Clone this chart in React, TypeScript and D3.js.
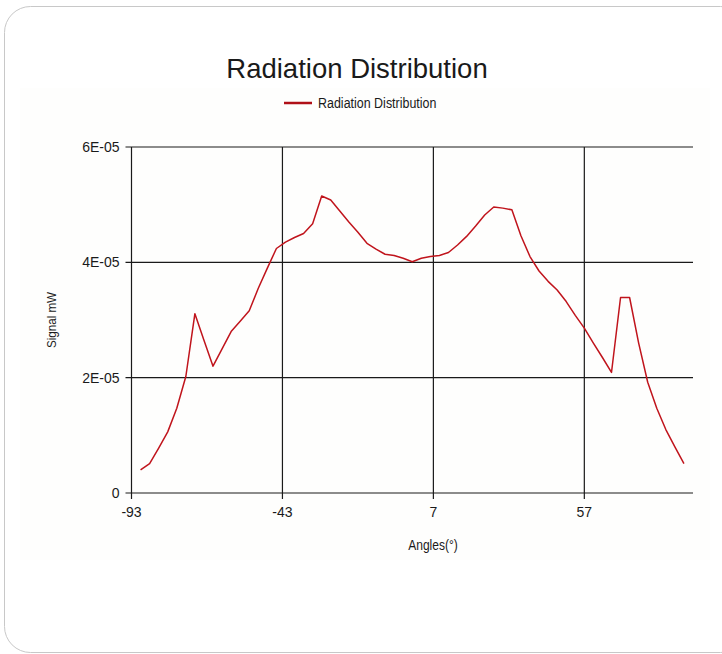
import React from "react";
import * as d3 from "d3";

const angles: number[] = [
  -90, -87, -84, -81, -78, -75, -72, -69, -66, -63, -60, -57, -54, -51, -48, -45,
  -42, -39, -36, -33, -30, -27, -24, -21, -18, -15, -12, -9, -6, -3, 0, 3, 6, 9,
  12, 15, 18, 21, 24, 27, 30, 33, 36, 39, 42, 45, 48, 51, 54, 57, 60, 63, 66, 69,
  72, 75, 78, 81, 84, 87, 90,
];
// signal in units of 1E-06 mW
const signal: number[] = [
  4.0, 5.1, 7.8, 10.6, 14.7, 20.2, 31.1, 26.5, 22.0, 25.0, 28.0, 29.8, 31.6, 35.5,
  39.0, 42.4, 43.5, 44.3, 45.0, 46.7, 51.5, 50.8, 48.9, 47.0, 45.2, 43.3, 42.3,
  41.4, 41.2, 40.7, 40.1, 40.7, 41.0, 41.2, 41.7, 43.0, 44.5, 46.3, 48.2, 49.6,
  49.4, 49.1, 44.6, 41.0, 38.5, 36.7, 35.2, 33.2, 30.8, 28.6, 26.0, 23.5, 20.9,
  33.9, 33.9, 26.0, 19.2, 14.7, 11.0, 8.0, 5.1,
];
const xTicks: number[] = [-93, -43, 7, 57];
const yTicks: number[] = [0, 20, 40, 60];
const yTickLabels: string[] = ["0", "2E-05", "4E-05", "6E-05"];

const title = "Radiation Distribution";
const seriesName = "Radiation Distribution";
const xTitle = "Angles(°)";
const yTitle = "Signal mW";

const W = 722;
const H = 654;
const left = 131.5;
const right = 693;
const top = 147;
const bottom = 493;

const regular = "'Liberation Sans', Arial, sans-serif";

export default function App() {
  const x = d3.scaleLinear().domain([-93, 93]).range([left, right]);
  const y = d3.scaleLinear().domain([0, 60]).range([bottom, top]);
  const pts: [number, number][] = angles.map((a, i) => [a, signal[i]]);
  const line = d3
    .line<[number, number]>()
    .x((d) => x(d[0]))
    .y((d) => y(d[1]));
  const gridColor = "#1a1a1a";

  return (
    <div style={{ position: "absolute", left: 0, top: 0 }}>
      <svg width={W} height={H} style={{ display: "block" }}>
        <rect x={0} y={0} width={W} height={H} fill="#ffffff" />
        <rect
          x={4.5}
          y={6.5}
          width={W + 20}
          height={H - 8}
          rx={26}
          ry={26}
          fill="#ffffff"
          stroke="#c8c8c8"
          strokeWidth={1}
        />
        <rect x={20} y={88} width={690} height={472} fill="#fefefd" />
        <text
          x={357}
          y={78}
          textAnchor="middle"
          fontFamily={regular}
          fontSize={27.5}
          fill="#1a1a1a"
        >
          {title}
        </text>
        {/* legend */}
        <line x1={284} x2={312} y1={103} y2={103} stroke="#b01018" strokeWidth={2.5} />
        <text
          transform="translate(318,108) scale(0.86,1)"
          fontFamily={regular}
          fontSize={14.5}
          fill="#1a1a1a"
        >
          {seriesName}
        </text>
        {/* horizontal gridlines */}
        {yTicks.map((t, i) => (
          <g key={"y" + t}>
            <line
              x1={left - 6}
              x2={right}
              y1={y(t)}
              y2={y(t)}
              stroke={gridColor}
              strokeWidth={1.2}
            />
            <text
              x={left - 12}
              y={y(t) + 5}
              textAnchor="end"
              fontFamily={regular}
              fontSize={14}
              fill="#1a1a1a"
            >
              {yTickLabels[i]}
            </text>
          </g>
        ))}
        {/* vertical gridlines */}
        {xTicks.map((t) => (
          <g key={"x" + t}>
            <line
              x1={x(t)}
              x2={x(t)}
              y1={top}
              y2={bottom + 6}
              stroke={gridColor}
              strokeWidth={1.2}
            />
            <text
              x={x(t)}
              y={517}
              textAnchor="middle"
              fontFamily={regular}
              fontSize={14}
              fill="#1a1a1a"
            >
              {t}
            </text>
          </g>
        ))}
        <path
          d={line(pts) || ""}
          fill="none"
          stroke="#c0141c"
          strokeWidth={1.5}
          strokeLinejoin="round"
        />
        <text
          transform="translate(433,550) scale(0.86,1)"
          textAnchor="middle"
          fontFamily={regular}
          fontSize={14}
          fill="#1a1a1a"
        >
          {xTitle}
        </text>
        <text
          transform="translate(56,320) rotate(-90) scale(0.86,1)"
          textAnchor="middle"
          fontFamily={regular}
          fontSize={13.5}
          fill="#1a1a1a"
        >
          {yTitle}
        </text>
      </svg>
    </div>
  );
}
